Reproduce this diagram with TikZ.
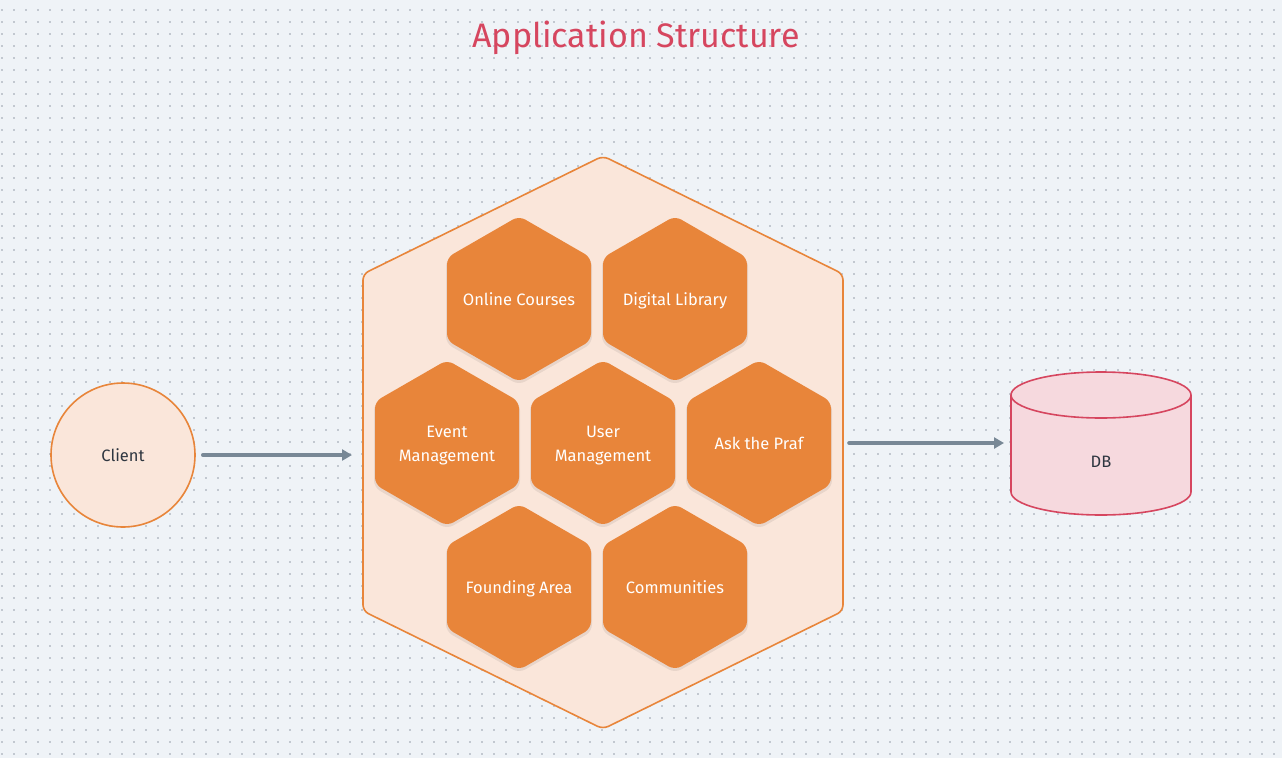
\documentclass[tikz,border=0pt]{standalone}
\usepackage{fontspec}
\setmainfont{Fira Sans}
\usetikzlibrary{arrows.meta}
\definecolor{bg}{HTML}{EFF3F7}
\definecolor{dotc}{HTML}{C2C8D0}
\definecolor{orng}{HTML}{E8853A}
\definecolor{peach}{HTML}{FAE6DA}
\definecolor{titlec}{HTML}{D6465F}
\definecolor{dbfill}{HTML}{F6D9DE}
\definecolor{dbline}{HTML}{D6465F}
\definecolor{arrowc}{HTML}{788896}
\definecolor{txt}{HTML}{2E3640}
\tikzset{
  hexshape/.pic={
    \fill[black,opacity=.07,rounded corners=7pt] (0,-81)--(73,-39.5)--(73,44.5)--(0,86)--(-73,44.5)--(-73,-39.5)--cycle;
    \fill[orng,rounded corners=7pt] (0,-83)--(72,-41.5)--(72,41.5)--(0,83)--(-72,41.5)--(-72,-41.5)--cycle;
  },
  hexa/.pic={
    \pic {hexshape};
    \node[hext,anchor=base] (-t) at (0,6) {#1};
  },
  hexb/.pic={
    \pic {hexshape};
    \node[hext,anchor=base] (-t) at (0,-6) {\csname hexfirst\endcsname};
    \node[hext,anchor=base] (-u) at (0,18) {#1};
  },
  hext/.style={text=white,inner sep=0pt,font=\fontsize{16.5}{24}\selectfont},
  conn/.style={draw=arrowc,line width=3.6pt,line cap=round,-{Triangle[length=10pt,width=11pt]}},
  lbl/.style={text=txt,font=\fontsize{16.5}{20}\selectfont}
}
\begin{document}
\begin{tikzpicture}[x=1pt,y=-1pt]
\useasboundingbox (0,0) rectangle (1282,758);
\fill[bg] (0,0) rectangle (1282,758);
\foreach \y in {10,22,...,754}
  \draw[dotc,line width=1.2pt,dash pattern=on 1.2pt off 10.8pt] (1.4,\y) -- (1282,\y);

\node[text=titlec,font=\fontsize{34}{40}\selectfont] (title) at (636,38) {Application Structure};

% big hexagon
\draw[fill=peach,draw=orng,line width=1.6pt,rounded corners=6pt]
  (603,156)--(843,274)--(843,611)--(603,729)--(363,611)--(363,274)--cycle;
\coordinate (appL) at (363,455);
\coordinate (appR) at (843,443);

\pic (oc) at (519,299) {hexa={Online Courses}};
\pic (dl) at (675,299) {hexa={Digital Library}};
\def\hexfirst{Event}
\pic (em) at (447,443) {hexb={Management}};
\def\hexfirst{User}
\pic (um) at (603,443) {hexb={Management}};
\pic (ap) at (759,443) {hexa={Ask the Praf}};
\pic (fa) at (519,587) {hexa={Founding Area}};
\pic (cm) at (675,587) {hexa={Communities}};

% client
\node[circle,draw=orng,fill=peach,line width=1.6pt,minimum size=144pt,inner sep=0pt,lbl] (client) at (123,455) {Client};

% DB
\fill[dbfill] (1011,395) rectangle (1191,492);
\fill[dbfill] (1101,492) ellipse [x radius=90, y radius=23];
\begin{scope}
  \clip (1000,492) rectangle (1200,530);
  \draw[dbline,line width=1.6pt] (1101,492) ellipse [x radius=90, y radius=23];
\end{scope}
\draw[dbline,line width=1.6pt] (1011,395)--(1011,492) (1191,395)--(1191,492);
\draw[dbline,fill=dbfill,line width=1.6pt] (1101,395) ellipse [x radius=90, y radius=23];
\node[lbl] (db) at (1101,462) {DB};
\coordinate (dbL) at (1011,443);

\draw[conn,shorten <=7pt,shorten >=11pt] (client) -- (appL);
\draw[conn,shorten <=6pt,shorten >=7pt] (appR) -- (dbL);
\end{tikzpicture}
\end{document}
